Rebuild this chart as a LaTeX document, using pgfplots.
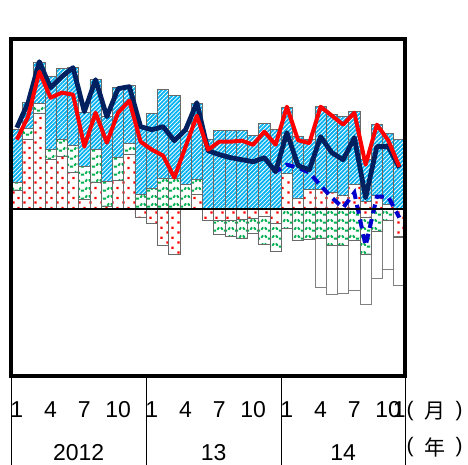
\documentclass[border=0pt]{standalone}
\usepackage{fontspec}
\setmainfont{Liberation Sans}
\newfontfamily\jp{Noto Sans CJK JP}
\usepackage{pgfplots}
\usepackage{pgfplotstable}
\pgfplotsset{compat=1.18}
\usetikzlibrary{patterns,patterns.meta}

\definecolor{hatchblue}{RGB}{0,176,240}
\definecolor{wavegreen}{RGB}{0,176,80}
\definecolor{dotred}{RGB}{255,0,0}
\definecolor{navyline}{RGB}{0,32,96}
\definecolor{dashblue}{RGB}{0,0,204}
\definecolor{baredge}{RGB}{105,105,105}

% red dotted fill
\pgfdeclarepatternformonly{reddots}{\pgfpointorigin}{\pgfpoint{11bp}{10bp}}{\pgfpoint{11bp}{10bp}}{%
  \pgfpathrectangle{\pgfpoint{1.5bp}{1.5bp}}{\pgfpoint{2.4bp}{2.4bp}}%
  \pgfpathrectangle{\pgfpoint{7bp}{6.5bp}}{\pgfpoint{2.4bp}{2.4bp}}%
  \pgfusepath{fill}}
% green wavy dashes
\pgfdeclarepatternformonly{greenwaves}{\pgfpoint{-1bp}{-1bp}}{\pgfpoint{12bp}{9bp}}{\pgfpoint{11bp}{8bp}}{%
  \pgfsetlinewidth{1.9bp}%
  \pgfpathmoveto{\pgfpoint{1bp}{5.6bp}}\pgfpathlineto{\pgfpoint{2.6bp}{3.3bp}}%
  \pgfpathmoveto{\pgfpoint{3.8bp}{2.4bp}}\pgfpathlineto{\pgfpoint{7.2bp}{2.4bp}}%
  \pgfpathmoveto{\pgfpoint{8.4bp}{3.3bp}}\pgfpathlineto{\pgfpoint{10bp}{5.6bp}}%
  \pgfusepath{stroke}}

% month: positive parts (R,G,B) and negative parts (r,g,w)
\pgfplotstableread{
i R G B r g w
0 1.69 0.71 4.66 0 0 0
1 6.17 1.02 2.31 0 0 0
2 8.52 0.89 3.64 0 0 0
3 4.39 0.89 6.52 0 0 0
4 4.70 1.51 6.26 0 0 0
5 3.28 2.40 6.88 0 0 0
6 0.84 2.93 4.84 0 0 0
7 2.40 2.93 6.17 0 0 0
8 0.27 2.22 5.77 0 0 0
9 2.57 2.00 6.21 0 0 0
10 4.84 1.02 5.15 0 0 0
11 0 1.29 6.08 -0.75 0 0
12 0 1.82 6.70 -1.24 0 0
13 0 2.71 7.94 -3.19 0 0
14 0 2.71 7.41 -3.99 0 0
15 0 2.22 4.70 0 0 0
16 1.29 1.33 6.79 0 0 0
17 0 0 6.21 -0.98 0 0
18 0 0 7.01 -0.98 -1.22 0
19 0 0 7.01 -0.98 -1.42 0
20 0 0 7.01 -0.89 -1.69 0
21 0 0 6.57 -0.80 -1.38 0
22 0 0 7.59 -0.62 -2.53 0
23 0 0 7.05 -1.29 -2.48 0
24 3.15 0 5.86 0 -1.73 0
25 0.93 0 5.50 0 -2.75 0
26 1.77 0 4.39 0 -2.66 0
27 1.77 0 7.32 0 -2.57 -4.39
28 1.51 0 6.88 0 -3.24 -4.30
29 1.24 0 7.01 0 -3.19 -4.30
30 2.17 0 6.52 0 -2.80 -4.39
31 0.71 0 3.68 -0.71 -3.33 -4.44
32 1.24 0 6.30 0 -1.95 -4.21
33 0.44 0 6.30 0 -1.02 -4.35
34 0 0 6.17 -2.40 -0.13 -4.26
}\bars

\pgfplotstableread{
i navy red
0 7.23 6.17
1 9.45 8.21
2 13.09 12.20
3 10.78 9.89
4 11.76 10.34
5 12.56 10.16
6 8.65 5.55
7 11.49 8.56
8 8.21 5.90
9 10.69 8.56
10 10.87 9.63
11 7.32 5.99
12 7.05 5.28
13 7.32 4.75
14 6.08 2.80
15 7.05 5.55
16 9.45 8.30
17 5.19 5.28
18 4.84 5.99
19 4.57 5.99
20 4.39 6.08
21 4.21 5.72
22 4.57 6.88
23 3.33 5.72
24 6.79 9.09
25 3.86 6.12
26 3.50 5.86
27 6.43 9.09
28 5.01 8.30
29 4.39 7.50
30 6.34 8.56
31 1.02 3.95
32 5.55 7.50
33 5.55 6.12
34 3.68 3.77
}\lines

\pgfplotstableread{
i v
22 4.57
23 3.33
24 3.95
25 3.68
26 3.24
27 2.10
28 1.02
29 0.13
30 1.46
31 -3.24
32 1.11
33 1.11
34 -0.75
}\dashed

\pgfplotsset{
  frame/.style={scale only axis, width=393.8bp, height=337bp,
    xmin=-0.5, xmax=34.5, ymin=-14.8, ymax=15.1,
    at={(0,0)}, anchor=south west},
  barlayer/.style={frame, hide axis, ybar stacked, bar width=1,
    every axis plot/.append style={draw=baredge, line width=0.7bp}},
}

\begin{document}
\begin{tikzpicture}
\useasboundingbox (-11.2bp,-89bp) rectangle (456.8bp,376bp);

% positive components
\begin{axis}[barlayer]
  \addplot[pattern=reddots, pattern color=dotred] table[x=i,y=R]{\bars};
  \addplot[pattern=greenwaves, pattern color=wavegreen] table[x=i,y=G]{\bars};
  \addplot[pattern={Lines[angle=45,distance=2.9bp,line width=1.8bp]}, pattern color=hatchblue] table[x=i,y=B]{\bars};
\end{axis}

% negative components
\begin{axis}[barlayer]
  \addplot[pattern=reddots, pattern color=dotred] table[x=i,y=r]{\bars};
  \addplot[pattern=greenwaves, pattern color=wavegreen] table[x=i,y=g]{\bars};
  \addplot[fill=white, draw=gray] table[x=i,y=w]{\bars};
\end{axis}

% lines, frame and labels
\begin{axis}[frame, clip=false,
    axis line style={draw=none},
    ytick=\empty,
    xtick={0,3,6,9,12,15,18,21,24,27,30,33,34},
    xticklabels={1,4,7,10,1,4,7,10,1,4,7,10,1},
    major tick length=0pt,
    xticklabel style={font=\fontsize{23bp}{27bp}\selectfont, anchor=center, yshift=-34bp, inner sep=0pt},
  ]
  \addplot[dashblue, line width=4bp, dash pattern=on 9bp off 6bp] table[x=i,y=v]{\dashed};
  \addplot[navyline, line width=4.8bp, line join=round] table[x=i,y=navy]{\lines};
  \addplot[dotred, line width=4bp, line join=round] table[x=i,y=red]{\lines};

  \draw[black, line width=2.2bp] (axis cs:-0.5,0) -- (axis cs:34.5,0);
  \draw[black, line width=4.5bp] (rel axis cs:0,0) rectangle (rel axis cs:1,1);

  % year separators below the frame
  \draw[black, line width=0.8bp] (axis cs:-0.5,-14.8) -- ([yshift=-89bp]axis cs:-0.5,-14.8);
  \draw[black, line width=0.8bp] (axis cs:11.5,-14.8) -- ([yshift=-89bp]axis cs:11.5,-14.8);
  \draw[black, line width=0.8bp] (axis cs:23.5,-14.8) -- ([yshift=-89bp]axis cs:23.5,-14.8);
  \draw[black, line width=0.8bp] (axis cs:34.5,-14.8) -- ([yshift=-89bp]axis cs:34.5,-14.8);

  \node[font=\fontsize{23bp}{27bp}\selectfont, inner sep=0pt] at ([yshift=-76.5bp]axis cs:5.5,-14.8) {2012};
  \node[font=\fontsize{23bp}{27bp}\selectfont, inner sep=0pt] at ([yshift=-76.5bp]axis cs:17.5,-14.8) {13};
  \node[font=\fontsize{23bp}{27bp}\selectfont, inner sep=0pt] at ([yshift=-76.5bp]axis cs:29,-14.8) {14};

  \node[font=\fontsize{21bp}{25bp}\selectfont, inner sep=0pt] at ([xshift=5bp,yshift=-35bp]rel axis cs:1,0) {(};
  \node[font=\fontsize{21bp}{25bp}\selectfont, inner sep=0pt] at ([xshift=30bp,yshift=-35bp]rel axis cs:1,0) {\jp 月};
  \node[font=\fontsize{21bp}{25bp}\selectfont, inner sep=0pt] at ([xshift=54bp,yshift=-35bp]rel axis cs:1,0) {)};
  \node[font=\fontsize{21bp}{25bp}\selectfont, inner sep=0pt] at ([xshift=5bp,yshift=-71bp]rel axis cs:1,0) {(};
  \node[font=\fontsize{21bp}{25bp}\selectfont, inner sep=0pt] at ([xshift=30bp,yshift=-71bp]rel axis cs:1,0) {\jp 年};
  \node[font=\fontsize{21bp}{25bp}\selectfont, inner sep=0pt] at ([xshift=54bp,yshift=-71bp]rel axis cs:1,0) {)};
\end{axis}
\end{tikzpicture}
\end{document}
